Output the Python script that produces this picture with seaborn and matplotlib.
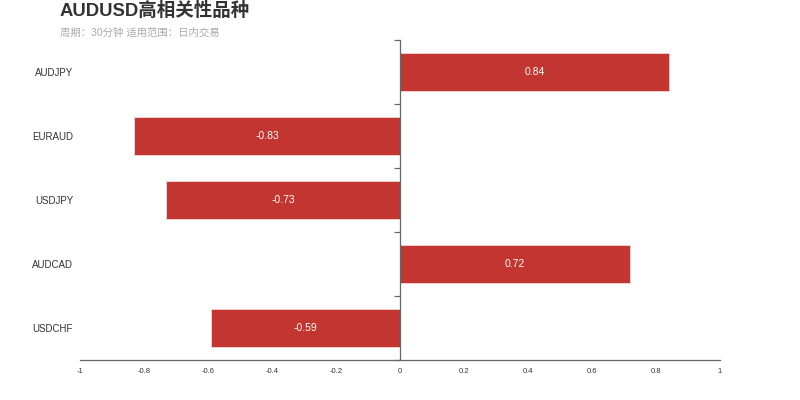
import matplotlib
matplotlib.use("Agg")
import matplotlib.pyplot as plt
import seaborn as sns
import pandas as pd

symbols = ["AUDJPY", "EURAUD", "USDJPY", "AUDCAD", "USDCHF"]
corr = [0.84, -0.83, -0.73, 0.72, -0.59]
xticks = [-1, -0.8, -0.6, -0.4, -0.2, 0, 0.2, 0.4, 0.6, 0.8, 1]
xtick_labels = ["-1", "-0.8", "-0.6", "-0.4", "-0.2", "0", "0.2", "0.4", "0.6", "0.8", "1"]
title = "AUDUSD高相关性品种"
subtitle = "周期：30分钟 适用范围：日内交易"

sns.set_style("white")
plt.rcParams["font.family"] = ["Liberation Sans", "Noto Sans CJK SC", "DejaVu Sans"]

df = pd.DataFrame({"symbol": symbols, "corr": corr})

fig = plt.figure(figsize=(8, 4), dpi=100)
ax = fig.add_axes([0.1, 0.1, 0.8, 0.8])

sns.barplot(data=df, x="corr", y="symbol", orient="h", color="#c23531",
            saturation=1, width=0.6, edgecolor="#f2d6d5", linewidth=0.6, ax=ax)

ax.set_xlim(-1, 1)
ax.set_ylim(len(symbols) - 0.5, -0.5)
ax.set_xlabel("")
ax.set_ylabel("")

for s in ["top", "right", "left"]:
    ax.spines[s].set_visible(False)
ax.spines["bottom"].set_color("#666666")
ax.spines["bottom"].set_linewidth(0.9)

ax.set_xticks(xticks)
ax.set_xticklabels(xtick_labels)
ax.tick_params(axis="x", length=0, pad=6, labelsize=5.5, labelcolor="#333333")
ax.tick_params(axis="y", length=0, pad=5, labelsize=7, labelcolor="#333333")

# zero line axis with ticks at category boundaries
sec = ax.secondary_yaxis(0.5)
sec.set_zorder(5)
for s in sec.spines.values():
    s.set_color("#666666")
    s.set_linewidth(0.9)
sec.set_yticks([i - 0.5 for i in range(len(symbols) + 1)])
sec.set_yticklabels([])
sec.yaxis.set_ticks_position("left")
sec.tick_params(axis="y", length=4, width=0.9, color="#666666", direction="out")

for cont in ax.containers:
    ax.bar_label(cont, labels=[f"{v:g}" for v in corr], label_type="center",
                 color="white", fontsize=7.5)

fig.text(0.075, 0.972, title, fontsize=13.3, fontweight="bold", color="#333333",
         va="center", ha="left")
fig.text(0.075, 0.9175, subtitle, fontsize=7.5, color="#aaaaaa", va="center", ha="left")

fig.savefig("out.png", dpi=100)
